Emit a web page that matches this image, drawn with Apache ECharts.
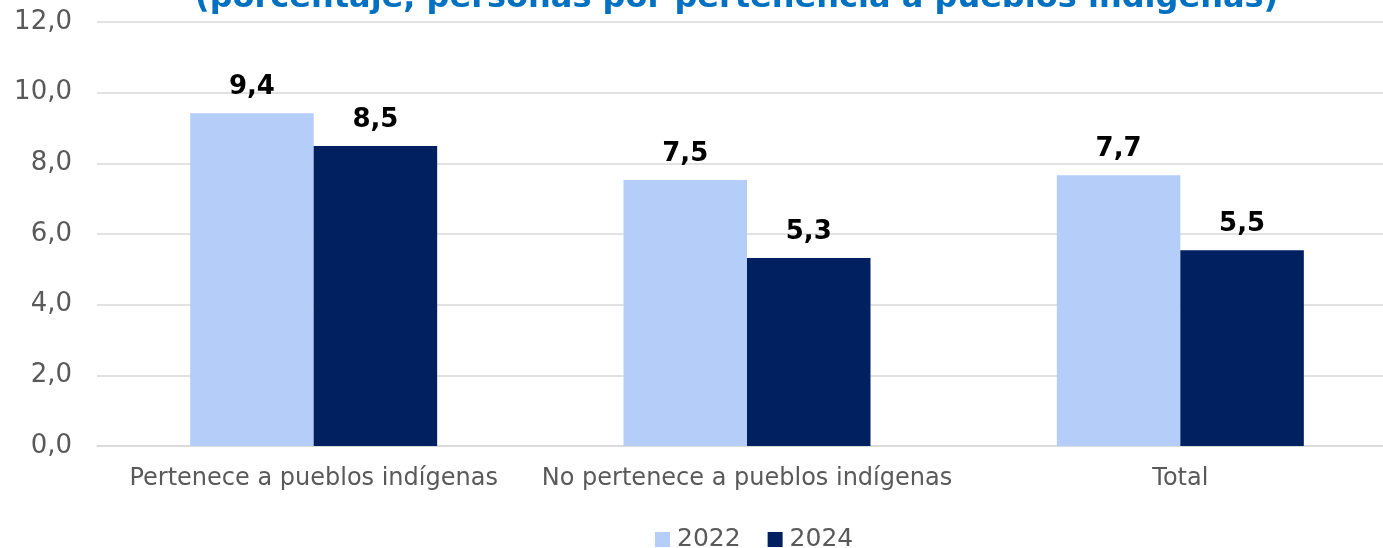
<!DOCTYPE html>
<html>
<head>
<meta charset="utf-8">
<script src="https://cdn.jsdelivr.net/npm/echarts@6/dist/echarts.min.js"></script>
<style>
  html, body { margin: 0; padding: 0; background: #fff; }
  #chart { width: 1383px; height: 548px; }
</style>
</head>
<body>
<div id="chart"></div>
<script>
const categories = ['Pertenece a pueblos indígenas', 'No pertenece a pueblos indígenas', 'Total']
const values2022 = [9.42, 7.53, 7.66]
const values2024 = [8.49, 5.32, 5.54]
const yTicks = [0, 2, 4, 6, 8, 10, 12]

const fmt = v => v.toFixed(1).replace('.', ',')
const font = '"DejaVu Sans", Verdana, sans-serif'

const chart = echarts.init(document.getElementById('chart'))

const labelStyle = {
  show: true,
  position: 'top',
  distance: 13,
  color: '#000',
  fontWeight: 'bold',
  fontSize: 26,
  fontFamily: font,
  formatter: p => fmt(p.value),
}

chart.setOption({
  animation: false,
  backgroundColor: '#fff',
  title: {
    text: '(porcentaje, personas por pertenencia a pueblos indígenas)',
    left: 190,
    top: -22,
    textStyle: { color: '#0070c0', fontSize: 32, fontWeight: 'bold', fontFamily: font },
  },
  grid: { left: 97, width: 1300, top: 22, bottom: 102, outerBoundsMode: 'none', containLabel: false },
  legend: {
    left: 650,
    top: 522,
    icon: 'rect',
    itemWidth: 15,
    itemHeight: 15,
    itemGap: 27,
    textStyle: { color: '#595959', fontSize: 25, fontFamily: font, padding: [0, 0, 0, 2] },
    data: ['2022', '2024'],
  },
  xAxis: {
    type: 'category',
    data: categories,
    axisLine: { lineStyle: { color: '#d9d9d9', width: 1.5 } },
    axisTick: { show: false },
    axisLabel: { color: '#595959', fontSize: 24, fontFamily: font, margin: 21, interval: 0 },
  },
  yAxis: {
    type: 'value',
    min: yTicks[0],
    max: yTicks[yTicks.length - 1],
    interval: 2,
    axisLine: { show: false },
    axisTick: { show: false },
    splitLine: { lineStyle: { color: '#d9d9d9', width: 1.5 } },
    axisLabel: { color: '#595959', fontSize: 26, fontFamily: font, margin: 25, formatter: v => fmt(v) },
  },
  series: [
    {
      name: '2022',
      type: 'bar',
      data: values2022,
      barWidth: 123.5,
      barGap: '0%',
      itemStyle: { color: '#b4cdf9' },
      label: labelStyle,
    },
    {
      name: '2024',
      type: 'bar',
      data: values2024,
      barWidth: 123.5,
      barGap: '0%',
      itemStyle: { color: '#00205f' },
      label: labelStyle,
    },
  ],
})
</script>
</body>
</html>
